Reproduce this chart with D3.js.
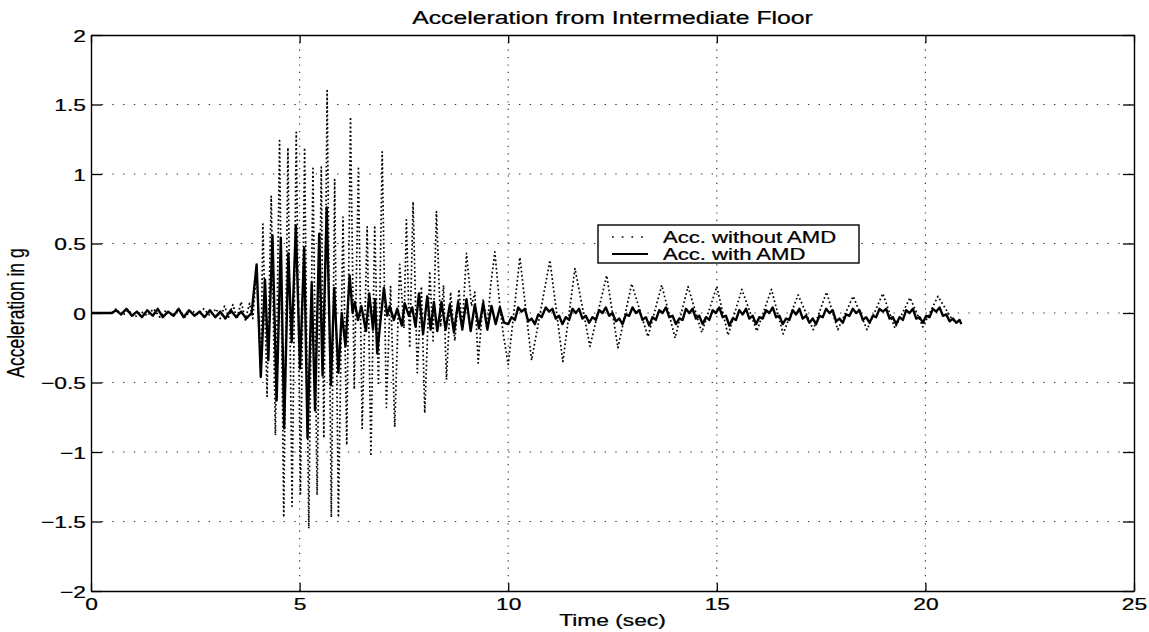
<!DOCTYPE html>
<html>
<head>
<meta charset="utf-8">
<script src="https://cdn.jsdelivr.net/npm/d3@7"></script>
<style>
body { margin: 0; background: #fff; }
svg { display: block; }
</style>
</head>
<body>
<svg width="1149" height="632"></svg>
<script>
// tick values and labels
var xTicks = [0, 5, 10, 15, 20, 25]
var yTicks = [-2, -1.5, -1, -0.5, 0, 0.5, 1, 1.5, 2]
var yTickLabels = ['\u22122', '\u22121.5', '\u22121', '\u22120.5', '0', '0.5', '1', '1.5', '2']
var xGrid = [5, 10, 15, 20]
var yGrid = [-1.5, -1, -0.5, 0, 0.5, 1, 1.5]

// Acc. without AMD  [time (sec), acceleration (g)]
var withoutQuiet = [
	[0, 0], [0.5, 0], [0.6, 0.03], [0.75, -0.02], [0.9, 0.02], [1.05, -0.03], [1.2, 0.01], [1.35, -0.02],
	[1.5, 0.03], [1.65, -0.03], [1.8, 0.02], [1.95, -0.02], [2.1, 0.03], [2.25, -0.03], [2.4, 0.02],
	[2.55, -0.01], [2.7, 0.03], [2.85, -0.02], [3.0, 0.03], [3.1, -0.04], [3.2, 0.05], [3.3, -0.03],
	[3.4, 0.06], [3.5, -0.04], [3.6, 0.08], [3.7, -0.05], [3.8, 0.07], [3.88, -0.04]
]
var withoutStrong = [
	[3.97, 0.33], [4.07, -0.45], [4.12, 0.64], [4.22, -0.60], [4.32, 0.84], [4.42, -0.88], [4.52, 1.24],
	[4.62, -1.47], [4.72, 1.19], [4.82, -1.39], [4.92, 1.30], [5.02, -1.30], [5.12, 1.19], [5.22, -1.55],
	[5.32, 1.04], [5.42, -1.31], [5.52, 1.05], [5.58, -0.90], [5.66, 1.60], [5.76, -1.47], [5.84, 0.96],
	[5.93, -1.47], [6.04, 0.69], [6.13, -0.95], [6.22, 1.41], [6.31, -0.55], [6.41, 1.04], [6.50, -0.83],
	[6.62, 0.62], [6.71, -1.03], [6.80, 0.63], [6.89, -0.52], [6.98, 1.16], [7.08, -0.68], [7.18, 0.19],
	[7.28, -0.82], [7.40, 0.35], [7.50, -0.11], [7.56, 0.67], [7.64, -0.25], [7.72, 0.80], [7.82, -0.43],
	[7.92, 0.19], [8.00, -0.72], [8.12, 0.30], [8.20, -0.20], [8.28, 0.73], [8.38, -0.10], [8.45, 0.20],
	[8.52, -0.48], [8.62, 0.15], [8.72, -0.20], [8.82, 0.17], [8.90, -0.10], [9.00, 0.43], [9.12, 0.05],
	[9.20, 0.15], [9.28, -0.36], [9.40, 0.10], [9.50, -0.10], [9.58, 0.20], [9.68, 0.44], [9.80, 0.05],
	[9.88, -0.15]
]
var withoutFree = [
	[10.00, -0.37], [10.28, 0.40], [10.56, -0.34], [11.00, 0.38], [11.31, -0.35], [11.60, 0.32],
	[11.96, -0.24], [12.36, 0.27], [12.63, -0.25], [12.96, 0.21], [13.35, -0.17], [13.68, 0.20],
	[14.00, -0.18], [14.31, 0.19], [14.64, -0.14], [15.00, 0.19], [15.27, -0.16], [15.60, 0.17],
	[15.96, -0.13], [16.31, 0.17], [16.59, -0.15], [16.95, 0.13], [17.31, -0.12], [17.63, 0.15],
	[17.90, -0.12], [18.27, 0.12], [18.60, -0.12], [18.98, 0.14], [19.27, -0.11], [19.63, 0.11],
	[19.94, -0.10], [20.30, 0.12], [20.65, -0.05], [20.83, -0.07]
]

// Acc. with AMD  [time (sec), acceleration (g)]
var withQuiet = [
	[0, 0], [0.5, 0], [0.6, 0.02], [0.72, -0.01], [0.85, 0.03], [0.98, -0.02], [1.1, 0.01], [1.22, -0.03],
	[1.35, 0.02], [1.48, -0.02], [1.6, 0.03], [1.72, -0.03], [1.85, 0.01], [1.98, -0.02], [2.1, 0.03],
	[2.22, -0.03], [2.35, 0.02], [2.48, -0.02], [2.6, 0.01], [2.72, -0.03], [2.85, 0.02], [2.98, -0.03],
	[3.1, 0.01], [3.22, -0.04], [3.35, 0.02], [3.48, -0.03], [3.6, 0.01], [3.72, -0.04], [3.85, 0.0]
]
var withStrong = [
	[3.97, 0.35], [4.07, -0.46], [4.17, 0.24], [4.25, -0.34], [4.35, 0.56], [4.45, -0.63], [4.55, 0.54],
	[4.63, -0.83], [4.73, 0.43], [4.81, -0.21], [4.91, 0.63], [5.01, -0.40], [5.11, 0.47], [5.19, -0.90],
	[5.29, 0.22], [5.37, -0.70], [5.47, 0.57], [5.55, -0.45], [5.65, 0.76], [5.75, -0.52], [5.83, 0.18],
	[5.93, -0.43], [6.01, 0.0], [6.10, -0.24], [6.20, 0.27], [6.27, 0.0], [6.32, 0.08], [6.40, -0.05],
	[6.48, 0.05], [6.59, -0.13], [6.67, 0.14], [6.76, -0.12], [6.81, 0.10], [6.86, -0.29], [7.02, 0.18],
	[7.10, -0.02], [7.16, 0.05], [7.26, -0.05], [7.34, 0.03], [7.45, -0.09], [7.52, 0.07], [7.62, -0.02],
	[7.70, 0.04], [7.78, -0.10], [7.86, 0.14], [7.96, -0.15], [8.06, 0.12], [8.14, -0.12], [8.22, 0.08],
	[8.30, -0.13], [8.40, 0.08], [8.50, -0.12], [8.60, 0.06], [8.70, -0.14], [8.80, 0.08], [8.90, -0.12],
	[9.00, 0.10], [9.10, -0.13], [9.20, 0.06], [9.30, -0.11], [9.40, 0.07], [9.50, -0.12], [9.60, 0.05],
	[9.70, -0.08], [9.80, 0.04], [9.90, -0.07]
]
var withFree = [
	[10.00, -0.08], [10.08, -0.03], [10.16, -0.05], [10.24, 0.04], [10.32, 0.01], [10.40, 0.03],
	[10.48, -0.06], [10.56, -0.04], [10.64, -0.08], [10.72, -0.01], [10.80, -0.03], [10.90, 0.04],
	[10.98, 0.01], [11.06, 0.03], [11.14, -0.04], [11.22, -0.02], [11.30, -0.08], [11.38, -0.03],
	[11.46, -0.05], [11.54, 0.03], [11.62, 0.0], [11.70, 0.03], [11.78, -0.04], [11.86, -0.02],
	[11.94, -0.07], [12.02, -0.03], [12.10, -0.05], [12.18, 0.02], [12.26, 0.0], [12.34, 0.04],
	[12.42, -0.02], [12.50, 0.0], [12.58, -0.06], [12.66, -0.04], [12.74, -0.08], [12.82, -0.01],
	[12.90, -0.02], [12.98, 0.04], [13.06, 0.0], [13.14, 0.02], [13.22, -0.05], [13.30, -0.03],
	[13.38, -0.09], [13.46, -0.03], [13.54, -0.05], [13.62, 0.02], [13.70, 0.0], [13.78, 0.04],
	[13.86, -0.03], [13.94, -0.02], [14.02, -0.08], [14.10, -0.04], [14.18, -0.05], [14.26, 0.03],
	[14.34, 0.0], [14.42, 0.03], [14.50, -0.04], [14.58, -0.02], [14.66, -0.08], [14.74, -0.03],
	[14.82, -0.05], [14.90, 0.02], [14.98, 0.0], [15.06, 0.04], [15.14, -0.03], [15.22, -0.02],
	[15.30, -0.09], [15.38, -0.04], [15.46, -0.05], [15.54, 0.02], [15.62, -0.01], [15.70, 0.03],
	[15.78, -0.04], [15.86, -0.02], [15.94, -0.08], [16.02, -0.03], [16.10, -0.04], [16.18, 0.02],
	[16.26, 0.0], [16.34, 0.04], [16.42, -0.03], [16.50, -0.02], [16.58, -0.08], [16.66, -0.04],
	[16.74, -0.05], [16.82, 0.02], [16.90, -0.01], [16.98, 0.03], [17.06, -0.04], [17.14, -0.02],
	[17.22, -0.07], [17.30, -0.04], [17.38, -0.08], [17.46, -0.02], [17.54, -0.03], [17.62, 0.03],
	[17.70, 0.0], [17.78, 0.02], [17.86, -0.06], [17.94, -0.04], [18.02, -0.07], [18.10, -0.01],
	[18.18, -0.02], [18.26, 0.03], [18.34, 0.0], [18.42, 0.02], [18.50, -0.05], [18.58, -0.03],
	[18.66, -0.07], [18.74, -0.02], [18.82, -0.03], [18.90, 0.03], [18.98, 0.01], [19.06, 0.03],
	[19.14, -0.04], [19.22, -0.03], [19.30, -0.08], [19.38, -0.03], [19.46, -0.05], [19.54, 0.02],
	[19.62, 0.0], [19.70, 0.03], [19.78, -0.04], [19.86, -0.03], [19.94, -0.07], [20.02, -0.02],
	[20.10, -0.03], [20.18, 0.03], [20.26, 0.01], [20.34, 0.04], [20.42, -0.02], [20.50, -0.01],
	[20.58, -0.06], [20.66, -0.04], [20.74, -0.07], [20.82, -0.05], [20.86, -0.08]
]

var series = [
	{name: 'Acc. without AMD', values: withoutQuiet.concat(withoutStrong, withoutFree), dotted: true},
	{name: 'Acc. with AMD', values: withQuiet.concat(withStrong, withFree), dotted: false}
]

var svg = d3.select('svg')
var width = +svg.attr('width')
var height = +svg.attr('height')
var margin = {top: 35, right: 15, bottom: 41, left: 91}
// the scanned figure is stretched sideways, so text is widened to match
var sx = 1.34
var font = '"Liberation Sans", Arial, Helvetica, sans-serif'

svg.append('rect').attr('width', width).attr('height', height).attr('fill', '#fff')

var x = d3.scaleLinear().domain([0, 25]).range([margin.left, width - margin.right])
var y = d3.scaleLinear().domain([-2, 2]).range([height - margin.bottom, margin.top])

// dotted grid
svg.append('g').selectAll('line')
	.data(xGrid).enter().append('line')
	.attr('x1', function(d) { return x(d) }).attr('x2', function(d) { return x(d) })
	.attr('y1', y(-2)).attr('y2', y(2))
	.attr('stroke', '#333').attr('stroke-width', 1.2)
	.attr('stroke-dasharray', '1.2,6.2')
svg.append('g').selectAll('line')
	.data(yGrid).enter().append('line')
	.attr('x1', x(0)).attr('x2', x(25))
	.attr('y1', function(d) { return y(d) }).attr('y2', function(d) { return y(d) })
	.attr('stroke', '#333').attr('stroke-width', 1.2)
	.attr('stroke-dasharray', '1.4,9.3')

// series
var line = d3.line()
	.x(function(d) { return x(d[0]) })
	.y(function(d) { return y(d[1]) })

svg.append('g').selectAll('path')
	.data(series).enter().append('path')
	.attr('d', function(d) { return line(d.values) })
	.attr('fill', 'none')
	.attr('stroke', '#000')
	.attr('stroke-width', function(d) { return d.dotted ? 1.7 : 2.4 })
	.attr('stroke-linejoin', 'round')
	.attr('stroke-dasharray', function(d) { return d.dotted ? '1.7,2.5' : null })

// axes, ticks pointing inwards on all four sides
function styleAxis(g) {
	g.select('.domain').attr('stroke', '#000').attr('stroke-width', 1.4)
	g.selectAll('.tick line').attr('stroke', '#000').attr('stroke-width', 1.3)
	g.selectAll('.tick text').attr('fill', '#000').attr('font-family', font).attr('font-size', 17)
		.attr('stroke', '#000').attr('stroke-width', 0.25)
}

svg.append('g')
	.attr('transform', 'translate(0,' + y(-2) + ')')
	.call(d3.axisBottom(x).tickValues(xTicks).tickSize(-8).tickSizeOuter(0).tickPadding(7))
	.call(styleAxis)
	.call(function(g) {
		g.selectAll('.tick text').attr('transform', 'scale(' + sx + ',1)')
	})

svg.append('g')
	.attr('transform', 'translate(0,' + y(2) + ')')
	.call(d3.axisTop(x).tickValues(xTicks).tickSize(-8).tickSizeOuter(0).tickFormat(''))
	.call(styleAxis)

svg.append('g')
	.attr('transform', 'translate(' + x(0) + ',0)')
	.call(d3.axisLeft(y).tickValues(yTicks).tickSize(-11).tickSizeOuter(0)
		.tickFormat(function(d, i) { return yTickLabels[i] }))
	.call(styleAxis)
	.call(function(g) {
		g.selectAll('.tick text')
			.attr('x', -5 / sx)
			.attr('dy', '0.38em')
			.attr('transform', 'scale(' + sx + ',1)')
	})

svg.append('g')
	.attr('transform', 'translate(' + x(25) + ',0)')
	.call(d3.axisRight(y).tickValues(yTicks).tickSize(-11).tickSizeOuter(0).tickFormat(''))
	.call(styleAxis)

// title and axis labels
svg.append('text')
	.attr('transform', 'translate(' + (x(0) + x(25)) / 2 + ',24) scale(' + sx + ',1)')
	.attr('text-anchor', 'middle')
	.attr('font-family', font).attr('font-size', 18.5)
	.attr('stroke', '#000').attr('stroke-width', 0.25)
	.text('Acceleration from Intermediate Floor')

svg.append('text')
	.attr('transform', 'translate(' + (x(0) + x(25)) / 2 + ',626) scale(' + sx + ',1)')
	.attr('text-anchor', 'middle')
	.attr('font-family', font).attr('font-size', 17)
	.attr('stroke', '#000').attr('stroke-width', 0.25)
	.text('Time (sec)')

svg.append('text')
	.attr('transform', 'translate(24,' + y(0) + ') rotate(-90) scale(1,' + sx + ')')
	.attr('text-anchor', 'middle')
	.attr('font-family', font).attr('font-size', 17.5)
	.attr('stroke', '#000').attr('stroke-width', 0.2)
	.text('Acceleration in g')

// legend
var legend = svg.append('g').attr('transform', 'translate(598,225)')
legend.append('rect')
	.attr('width', 261).attr('height', 38)
	.attr('fill', '#fff').attr('stroke', '#000').attr('stroke-width', 1.4)

var item = legend.selectAll('g.item')
	.data(series).enter().append('g')
	.attr('class', 'item')
	.attr('transform', function(d, i) { return 'translate(0,' + (12 + i * 17) + ')' })
item.append('line')
	.attr('x1', 14).attr('x2', 50).attr('y1', 0).attr('y2', 0)
	.attr('stroke', '#000')
	.attr('stroke-width', function(d) { return d.dotted ? 1.7 : 2.2 })
	.attr('stroke-dasharray', function(d) { return d.dotted ? '1.7,8' : null })
item.append('text')
	.attr('transform', 'translate(65,6) scale(' + sx + ',1)')
	.attr('font-family', font).attr('font-size', 16.5)
	.attr('stroke', '#000').attr('stroke-width', 0.25)
	.text(function(d) { return d.name })
</script>
</body>
</html>
